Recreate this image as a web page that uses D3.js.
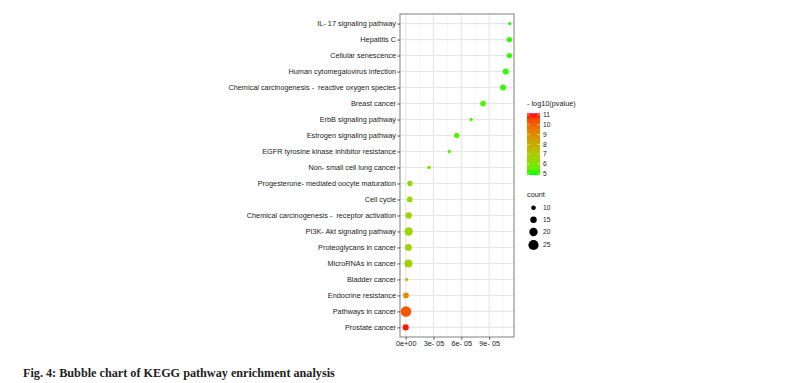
<!DOCTYPE html>
<html>
<head>
<meta charset="utf-8">
<script src="https://cdn.jsdelivr.net/npm/d3@7"></script>
<style>
body{margin:0;background:#fff;}
svg text{font-family:"Liberation Sans",Arial,sans-serif;}
</style>
</head>
<body>
<svg id="chart" width="788" height="383"></svg>
<script>
// pathways, top to bottom
var pathways = ["IL- 17 signaling pathway","Hepatitis C","Cellular senescence","Human cytomegalovirus infection",
  "Chemical carcinogenesis -  reactive oxygen species","Breast cancer","ErbB signaling pathway","Estrogen signaling pathway",
  "EGFR tyrosine kinase inhibitor resistance","Non- small cell lung cancer","Progesterone- mediated oocyte maturation",
  "Cell cycle","Chemical carcinogenesis -  receptor activation","PI3K- Akt signaling pathway","Proteoglycans in cancer",
  "MicroRNAs in cancer","Bladder cancer","Endocrine resistance","Pathways in cancer","Prostate cancer"];
var xvals = [1.122e-4,1.118e-4,1.118e-4,1.079e-4,1.050e-4,8.34e-5,7.05e-5,5.50e-5,4.71e-5,2.51e-5,
  4.6e-6,4.3e-6,3.2e-6,3.2e-6,2.9e-6,2.9e-6,1.1e-6,3e-7,3e-7,0];
var counts = [6,12,12,14,14,13,7,12,7,7, 12,13,15,20,16,19,6,13,26,14];
var logp = [4.9,5.0,5.0,5.05,5.1,5.2,5.3,5.35,5.4,5.6, 6.4,6.5,6.6,6.6,6.7,6.8,7.5,9.0,10.3,11.1];
var xTicks = [0,3e-5,6e-5,9e-5];
var xTickLabels = ["0e+00","3e- 05","6e- 05","9e- 05"];
var xMinor = [1.5e-5,4.5e-5,7.5e-5,1.05e-4];
var colorTicks = [5,6,7,8,9,10,11];
var sizeKeys = [10,15,20,25];

var svg = d3.select("#chart");
var L = 400, R = 514, T = 14, B = 337;

var x = d3.scaleLinear().domain([-6.15e-6,1.168e-4]).range([L,R]);
var y = d3.scalePoint().domain(pathways).range([T,B]).padding(0.6);
var color = d3.scaleLinear().domain([4.87,11.17]).range(["#00ff00","#ff0000"]).interpolate(d3.interpolateLab);
var size = d3.scaleLinear().domain([5,25]).range([1.4,5.1]);

// panel
svg.append("rect").attr("x",L).attr("y",T).attr("width",R-L).attr("height",B-T).attr("fill","#fff");
svg.selectAll(".minx").data(xMinor).enter().append("line")
  .attr("x1",function(d){return x(d);}).attr("x2",function(d){return x(d);})
  .attr("y1",T).attr("y2",B).attr("stroke","#f0f0f0").attr("stroke-width",0.6);
svg.selectAll(".majx").data(xTicks).enter().append("line")
  .attr("x1",function(d){return x(d);}).attr("x2",function(d){return x(d);})
  .attr("y1",T).attr("y2",B).attr("stroke","#e6e6e6").attr("stroke-width",1.1);
svg.selectAll(".majy").data(pathways).enter().append("line")
  .attr("x1",L).attr("x2",R)
  .attr("y1",function(d){return y(d);}).attr("y2",function(d){return y(d);})
  .attr("stroke","#e6e6e6").attr("stroke-width",1.1);

// points
var pts = pathways.map(function(p,i){return {p:p,x:xvals[i],c:counts[i],v:logp[i]};});
svg.selectAll(".pt").data(pts).enter().append("circle")
  .attr("cx",function(d){return x(d.x);}).attr("cy",function(d){return y(d.p);})
  .attr("r",function(d){return size(d.c);}).attr("fill",function(d){return color(d.v);});

svg.append("rect").attr("x",L).attr("y",T).attr("width",R-L).attr("height",B-T)
  .attr("fill","none").attr("stroke","#8a8a8a").attr("stroke-width",1.1);

// axes
var yAxis = svg.append("g").attr("transform","translate("+L+",0)")
  .call(d3.axisLeft(y).tickSize(2.7).tickPadding(1.3));
var xAxis = svg.append("g").attr("transform","translate(0,"+B+")")
  .call(d3.axisBottom(x).tickValues(xTicks).tickFormat(function(d,i){return xTickLabels[i];}).tickSize(2.7).tickPadding(1.5));
[yAxis,xAxis].forEach(function(g){
  g.select(".domain").remove();
  g.selectAll(".tick line").attr("stroke","#333").attr("stroke-width",0.8);
  g.selectAll("text").attr("fill","#222").style("font-size","7.3px").style("white-space","pre");
});

// colour legend
var cbX = 527, cbW = 13, cbT = 113.3, cbB = 175;
var cy = d3.scaleLinear().domain([4.87,11.17]).range([cbB,cbT]);
var grad = svg.append("defs").append("linearGradient").attr("id","cg")
  .attr("x1",0).attr("x2",0).attr("y1",1).attr("y2",0);
d3.range(0,1.0001,0.1).forEach(function(t){
  grad.append("stop").attr("offset",t).attr("stop-color",color(4.87+t*(11.17-4.87)));
});
svg.append("text").attr("x",cbX).attr("y",106).style("font-size","7.3px").attr("fill","#222").text("- log10(pvalue)");
svg.append("rect").attr("x",cbX).attr("y",cbT).attr("width",cbW).attr("height",cbB-cbT).attr("fill","url(#cg)");
colorTicks.forEach(function(v){
  var yy = cy(v);
  svg.append("line").attr("x1",cbX).attr("x2",cbX+2.5).attr("y1",yy).attr("y2",yy).attr("stroke","#fff").attr("stroke-width",0.6);
  svg.append("line").attr("x1",cbX+cbW-2.5).attr("x2",cbX+cbW).attr("y1",yy).attr("y2",yy).attr("stroke","#fff").attr("stroke-width",0.6);
  svg.append("text").attr("x",543).attr("y",yy).attr("dy","0.35em").style("font-size","6.7px").attr("fill","#222").text(v);
});

// size legend
svg.append("text").attr("x",cbX).attr("y",197).style("font-size","7.3px").attr("fill","#222").text("count");
var keyY = [207.7,219.7,232,245];
sizeKeys.forEach(function(k,i){
  svg.append("circle").attr("cx",533.5).attr("cy",keyY[i]).attr("r",size(k)).attr("fill","#000");
  svg.append("text").attr("x",543).attr("y",keyY[i]).attr("dy","0.35em").style("font-size","6.7px").attr("fill","#222").text(k);
});

// caption
svg.append("text").attr("x",23).attr("y",377).style("font-family","'Liberation Serif','Times New Roman',serif")
  .style("font-weight","bold").style("font-size","12.2px").attr("fill","#222")
  .text("Fig. 4: Bubble chart of KEGG pathway enrichment analysis");
</script>
</body>
</html>
